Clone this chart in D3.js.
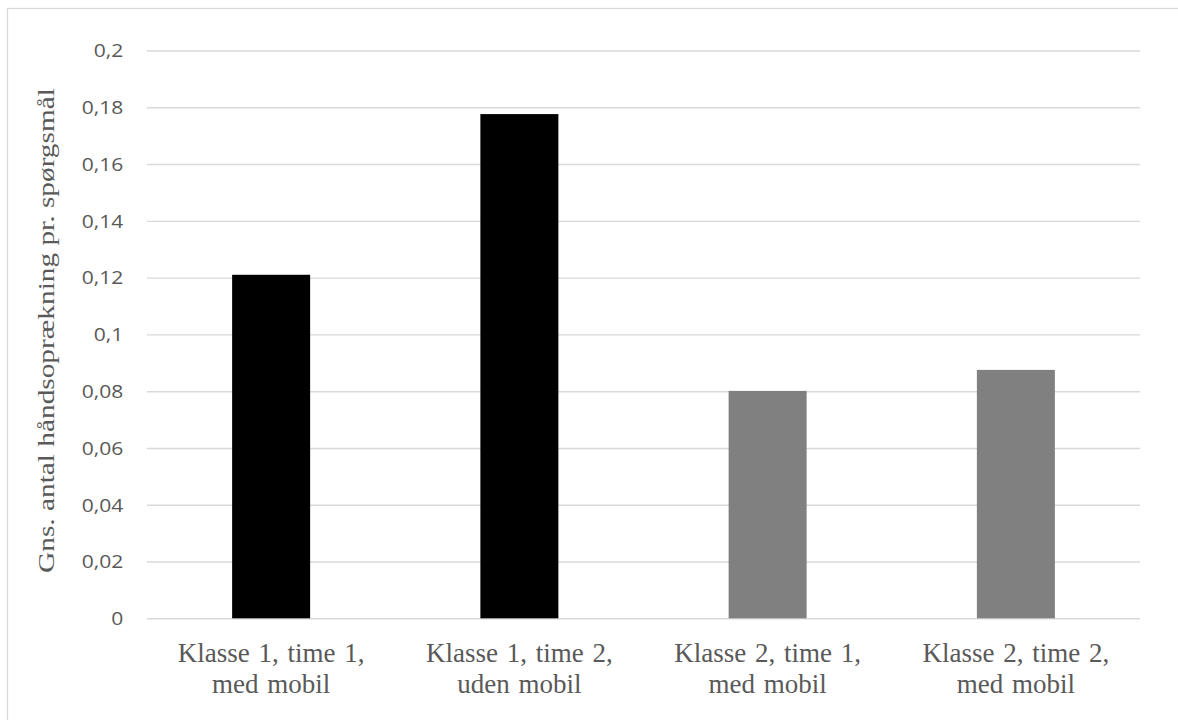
<!DOCTYPE html>
<html>
<head>
<meta charset="utf-8">
<script src="https://cdn.jsdelivr.net/npm/d3@7"></script>
<style>
  html, body { margin: 0; padding: 0; background: #ffffff; overflow: hidden; }
  svg { display: block; }
</style>
</head>
<body>
<svg id="chart" width="1178" height="720"></svg>
<script>
// ---- data ----
const categories = ["Klasse 1, time 1,|med mobil", "Klasse 1, time 2,|uden mobil", "Klasse 2, time 1,|med mobil", "Klasse 2, time 2,|med mobil"];
const values = [0.121, 0.1776, 0.0801, 0.0875];
const barColors = ["#000000", "#000000", "#808080", "#808080"];
const tickValues = [0, 0.02, 0.04, 0.06, 0.08, 0.1, 0.12, 0.14, 0.16, 0.18, 0.2];
const yTitle = "Gns. antal håndsoprækning pr. spørgsmål";

// ---- layout ----
const W = 1178, H = 720;
const plot = { left: 147, right: 1140, top: 50.5, bottom: 618.3 };
const textColor = "#595959";
const gridColor = "#d9d9d9";

const svg = d3.select("#chart");

svg.append("rect")
  .attr("x", 7.5).attr("y", 8.5)
  .attr("width", 1300).attr("height", 900)
  .attr("fill", "#ffffff")
  .attr("stroke", gridColor).attr("stroke-width", 1.3);

const x = d3.scaleBand()
  .domain(categories)
  .range([plot.left, plot.right])
  .paddingInner(0.6858)
  .paddingOuter(0.3429);

const y = d3.scaleLinear()
  .domain([0, 0.2])
  .range([plot.bottom, plot.top]);

const loc = d3.formatLocale({ decimal: ",", thousands: ".", grouping: [3], currency: ["", " kr"] });
const fmt = loc.format("~g");

// y axis with gridlines
const yAxis = d3.axisLeft(y)
  .tickValues(tickValues)
  .tickFormat(fmt)
  .tickSizeInner(-(plot.right - plot.left))
  .tickSizeOuter(0)
  .tickPadding(23.7);

const gy = svg.append("g")
  .attr("transform", `translate(${plot.left},0)`)
  .call(yAxis);
gy.select(".domain").remove();
gy.selectAll(".tick line")
  .attr("stroke", gridColor)
  .attr("stroke-width", 1.4);
const tickTexts = gy.selectAll(".tick text")
  .attr("fill", textColor)
  .attr("font-family", "'Open Sans', 'Liberation Sans', sans-serif")
  .attr("font-size", 18.6)
  .attr("dy", null)
  .attr("x", 0);
let refLen = 0;
tickTexts.each(function(d) { if (Math.abs(d - 0.18) < 1e-9) refLen = this.getComputedTextLength(); });
const sxTick = refLen ? 41.6 / refLen : 1;
tickTexts.attr("transform", `translate(-23.7,6.3) scale(${sxTick},1)`);

// bars
svg.append("g")
  .selectAll("rect")
  .data(categories)
  .join("rect")
  .attr("x", d => x(d))
  .attr("width", x.bandwidth())
  .attr("y", (d, i) => y(values[i]))
  .attr("height", (d, i) => y(0) - y(values[i]))
  .attr("fill", (d, i) => barColors[i]);

// x axis (labels only)
const xAxis = d3.axisBottom(x).tickSize(0).tickFormat("");
const gx = svg.append("g")
  .attr("transform", `translate(0,${plot.bottom})`)
  .call(xAxis);
gx.select(".domain").remove();

const lineBaselines = [661.7 - plot.bottom, 693.4 - plot.bottom];
gx.selectAll(".tick").append("g").attr("class", "cat")
  .selectAll("text")
  .data(d => d.split("|"))
  .join("text")
  .attr("text-anchor", "middle")
  .attr("y", (d, i) => lineBaselines[i])
  .attr("fill", textColor)
  .attr("font-family", "'Liberation Serif', 'Times New Roman', serif")
  .attr("font-size", 27)
  .attr("word-spacing", 2)
  .text(d => d);

// y title
const title = svg.append("text")
  .attr("text-anchor", "middle")
  .attr("fill", textColor)
  .attr("font-family", "'Liberation Serif', 'Times New Roman', serif")
  .attr("font-size", 23)
  .text(yTitle);
const tLen = title.node().getComputedTextLength();
const sxTitle = tLen ? 485 / tLen : 1;
title.attr("transform", `translate(54,330.5) rotate(-90) scale(${sxTitle},1)`);
</script>
</body>
</html>
